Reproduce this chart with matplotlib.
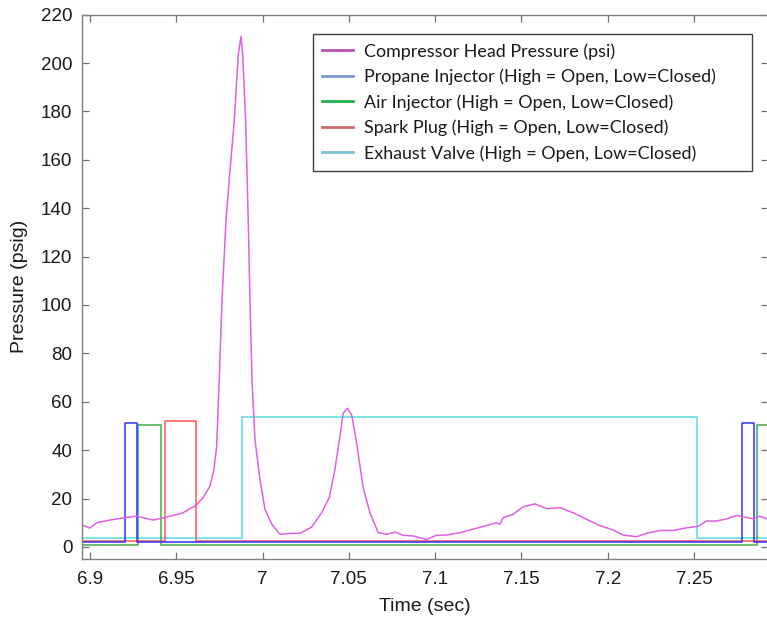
import matplotlib
matplotlib.use("Agg")
import matplotlib.pyplot as plt
from matplotlib.lines import Line2D

# ---------------- data ----------------
pressure_t = [6.8954, 6.9000, 6.9039, 6.9116, 6.9193, 6.9271, 6.9348, 6.9367, 6.9444,
              6.9540, 6.9579, 6.9614, 6.9655, 6.9695, 6.9718, 6.9734, 6.9749, 6.9765,
              6.9788, 6.9811, 6.9836, 6.9859, 6.9875, 6.9885, 6.9902, 6.9917, 6.9927,
              6.9939, 6.9956, 6.9985, 7.0014, 7.0054, 7.0101, 7.0159, 7.0216, 7.0284,
              7.0342, 7.0386, 7.0419, 7.0448, 7.0467, 7.0492, 7.0516, 7.0545, 7.0583,
              7.0622, 7.0670, 7.0719, 7.0767, 7.0815, 7.0873, 7.0950, 7.1008, 7.1066,
              7.1143, 7.1259, 7.1356, 7.1375, 7.1394, 7.1450, 7.1510, 7.1578, 7.1646,
              7.1723, 7.1800, 7.1877, 7.1954, 7.2031, 7.2089, 7.2167, 7.2225, 7.2302,
              7.2379, 7.2456, 7.2523, 7.2572, 7.2630, 7.2688, 7.2746, 7.2784, 7.2842,
              7.2881, 7.2920]
pressure_p = [9.0, 7.8, 10.0, 11.1, 12.0, 12.7, 11.4, 11.1, 12.3,
              14.1, 15.8, 17.1, 20.3, 25.1, 31.9, 41.5, 69.0, 101.9,
              134.8, 155.4, 176.0, 203.4, 211.0, 203.5, 176.0, 134.8, 101.9,
              69.0, 44.3, 27.8, 15.5, 9.3, 5.2, 5.6, 5.6, 8.2,
              14.1, 20.3, 31.9, 45.6, 55.3, 57.3, 54.6, 42.9, 24.4,
              14.1, 5.9, 5.2, 6.1, 4.8, 4.5, 3.1, 4.8, 4.9,
              5.9, 8.1, 10.0, 9.3, 12.1, 13.4, 16.6, 17.8, 15.8,
              16.2, 14.1, 11.4, 8.8, 7.0, 4.9, 4.2, 5.6, 6.8,
              6.8, 7.9, 8.5, 10.7, 10.7, 11.6, 13.0, 12.5, 11.6,
              12.7, 11.6]

# step signals: transition times, low level, high level
t_start, t_end = 6.8954, 7.2928
propane_edges = [6.9203, 6.9270, 7.2776, 7.2847]
propane_low, propane_high = 2.0, 51.4
air_edges = [6.9280, 6.9410, 7.2862]
air_low, air_high = 0.6, 50.2
spark_edges = [6.9435, 6.9614]
spark_low, spark_high = 2.6, 52.2
exhaust_edges = [6.9879, 7.2519]
exhaust_low, exhaust_high = 3.7, 53.6

labels = ["Compressor Head Pressure (psi)",
          "Propane Injector (High = Open, Low=Closed)",
          "Air Injector (High = Open, Low=Closed)",
          "Spark Plug (High = Open, Low=Closed)",
          "Exhaust Valve (High = Open, Low=Closed)"]

xticks = [6.9, 6.95, 7.0, 7.05, 7.1, 7.15, 7.2, 7.25]
xticklabels = ["6.9", "6.95", "7", "7.05", "7.1", "7.15", "7.2", "7.25"]
yticks = list(range(0, 221, 20))


def step_series(edges, low, high):
    ts, vs = [t_start], [low]
    level = low
    for e in edges:
        ts += [e, e]
        vs += [level, high if level == low else low]
        level = high if level == low else low
    ts.append(t_end)
    vs.append(level)
    return ts, vs


# ---------------- figure ----------------
W, H = 767, 618
fig = plt.figure(figsize=(W / 100, H / 100), dpi=100)
ax = fig.add_axes([82 / W, (H - 559) / H, (768 - 82) / W, (559 - 14.7) / H])

line_cols = ["#e060e0", "#3030ff", "#44aa44", "#ff5555", "#55dddd"]
legend_cols = ["#b94fb9", "#7a9bd0", "#22b14c", "#cd6a6a", "#7cc0d8"]

ax.plot(*step_series(exhaust_edges, exhaust_low, exhaust_high), color=line_cols[4], lw=1.1)
ax.plot(*step_series(air_edges, air_low, air_high), color=line_cols[2], lw=1.1)
ax.plot(*step_series(spark_edges, spark_low, spark_high), color=line_cols[3], lw=1.1)
ax.plot(*step_series(propane_edges, propane_low, propane_high), color=line_cols[1], lw=1.1)
ax.plot(pressure_t, pressure_p, color=line_cols[0], lw=1.1)

ax.set_xlim(t_start, t_end)
ax.set_ylim(-5, 220)
ax.set_xticks(xticks)
ax.set_xticklabels(xticklabels)
ax.set_yticks(yticks)

for lab in ax.get_xticklabels() + ax.get_yticklabels():
    lab.set_fontfamily("Liberation Sans")
    lab.set_fontsize(13.5)
    lab.set_color("#1a1a1a")
ax.tick_params(direction="in", length=5, width=0.9, color="#707070",
               top=True, right=True)
ax.tick_params(axis="x", pad=9)
ax.tick_params(axis="y", pad=7)
for s in ax.spines.values():
    s.set_color("#808080")
    s.set_linewidth(1.0)

ax.set_xlabel("Time (sec)", fontfamily="Liberation Sans", fontsize=14, color="#1a1a1a", labelpad=7)
ax.set_ylabel("Pressure (psig)", fontfamily="Liberation Sans", fontsize=14, color="#1a1a1a", labelpad=9)

handles = [Line2D([], [], color=c, lw=2.0) for c in legend_cols]
leg = ax.legend(handles, labels, loc="upper left",
                bbox_to_anchor=(313 / W, 1 - 167.7 / H, (752 - 313) / W, (167.7 - 34) / H),
                bbox_transform=fig.transFigure, mode="expand", borderaxespad=0,
                prop=dict(family="Lato", size=12.9), handlelength=1.75,
                handletextpad=0.62, labelspacing=0.5, borderpad=0.5,
                fancybox=False, framealpha=1, edgecolor="#404040")
leg.get_frame().set_linewidth(1.0)
for t in leg.get_texts():
    t.set_color("#1a1a1a")

fig.savefig("out.png", dpi=100)
